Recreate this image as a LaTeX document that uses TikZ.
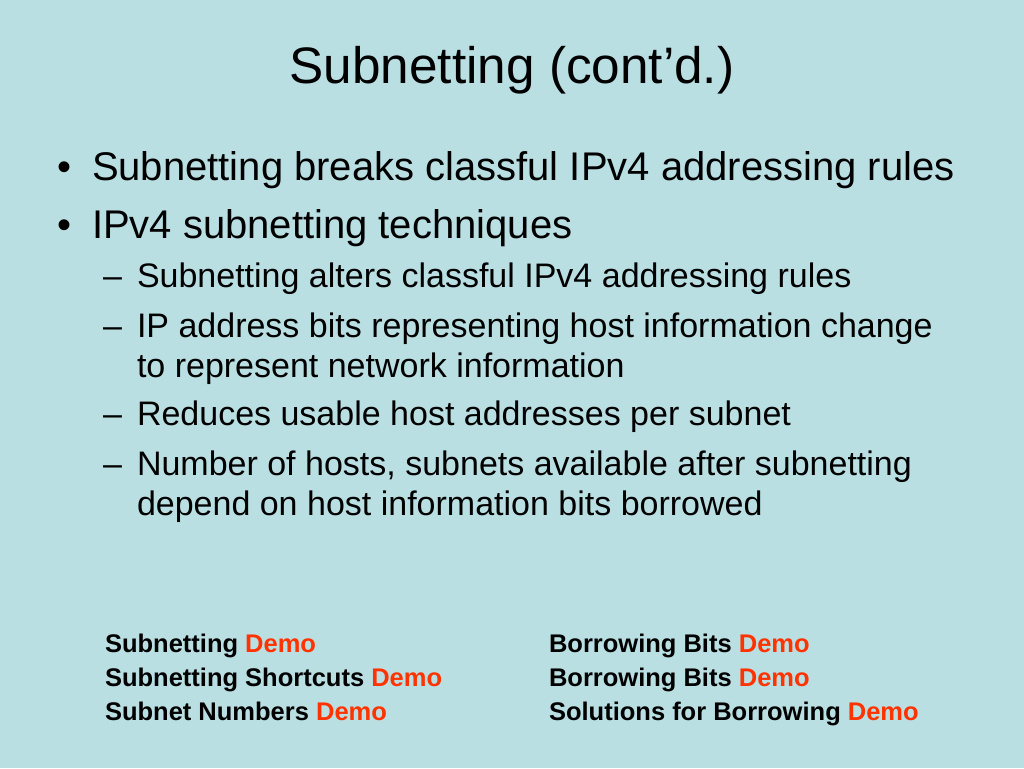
\documentclass[tikz,border=0pt]{standalone}
\usepackage{fontspec}
\setmainfont{Liberation Sans}
\definecolor{slidebg}{RGB}{185,223,227}
\definecolor{demored}{RGB}{255,51,0}
\newcommand{\demo}{\textcolor{demored}{Demo}}
\begin{document}
\begin{tikzpicture}[x=1pt,y=-1pt,
  every node/.style={inner sep=0pt,outer sep=0pt,anchor=base west},
  title/.style={font=\fontsize{51.3}{60}\selectfont,anchor=base},
  lvlone/.style={font=\fontsize{40}{48}\selectfont},
  lvltwo/.style={font=\fontsize{34}{41}\selectfont},
  demolink/.style={font=\fontsize{25.5}{30}\selectfont\bfseries}]
  \useasboundingbox (0,0) rectangle (1024,768);
  \fill[slidebg] (0,0) rectangle (1024,768);
  % title
  \node[title] (title) at (512,83) {Subnetting (cont’d.)};
  % first level
  \node[lvlone] (dot1) at (57,180) {•};
  \node[lvlone] (b1) at (92,180) {Subnetting breaks classful IPv4 addressing rules};
  \node[lvlone] (dot2) at (57,238) {•};
  \node[lvlone] (b2) at (92,238) {IPv4 subnetting techniques};
  % second level
  \node[lvltwo] (dash1) at (103,287) {–};
  \node[lvltwo] (s1) at (137,287) {Subnetting alters classful IPv4 addressing rules};
  \node[lvltwo] (dash2) at (103,337) {–};
  \node[lvltwo] (s2) at (137,337) {IP address bits representing host information change};
  \node[lvltwo] (s2b) at (137,377) {to represent network information};
  \node[lvltwo] (dash3) at (103,425) {–};
  \node[lvltwo] (s3) at (137,425) {Reduces usable host addresses per subnet};
  \node[lvltwo] (dash4) at (103,475) {–};
  \node[lvltwo] (s4) at (137,475) {Number of hosts, subnets available after subnetting};
  \node[lvltwo] (s4b) at (137,515) {depend on host information bits borrowed};
  % demo links
  \node[demolink] (d1) at (105,652) {Subnetting \demo};
  \node[demolink] (d2) at (105,686) {Subnetting Shortcuts \demo};
  \node[demolink] (d3) at (105,720) {Subnet Numbers \demo};
  \node[demolink] (d4) at (549,652) {Borrowing Bits \demo};
  \node[demolink] (d5) at (549,686) {Borrowing Bits \demo};
  \node[demolink] (d6) at (549,720) {Solutions for Borrowing \demo};
\end{tikzpicture}
\end{document}
